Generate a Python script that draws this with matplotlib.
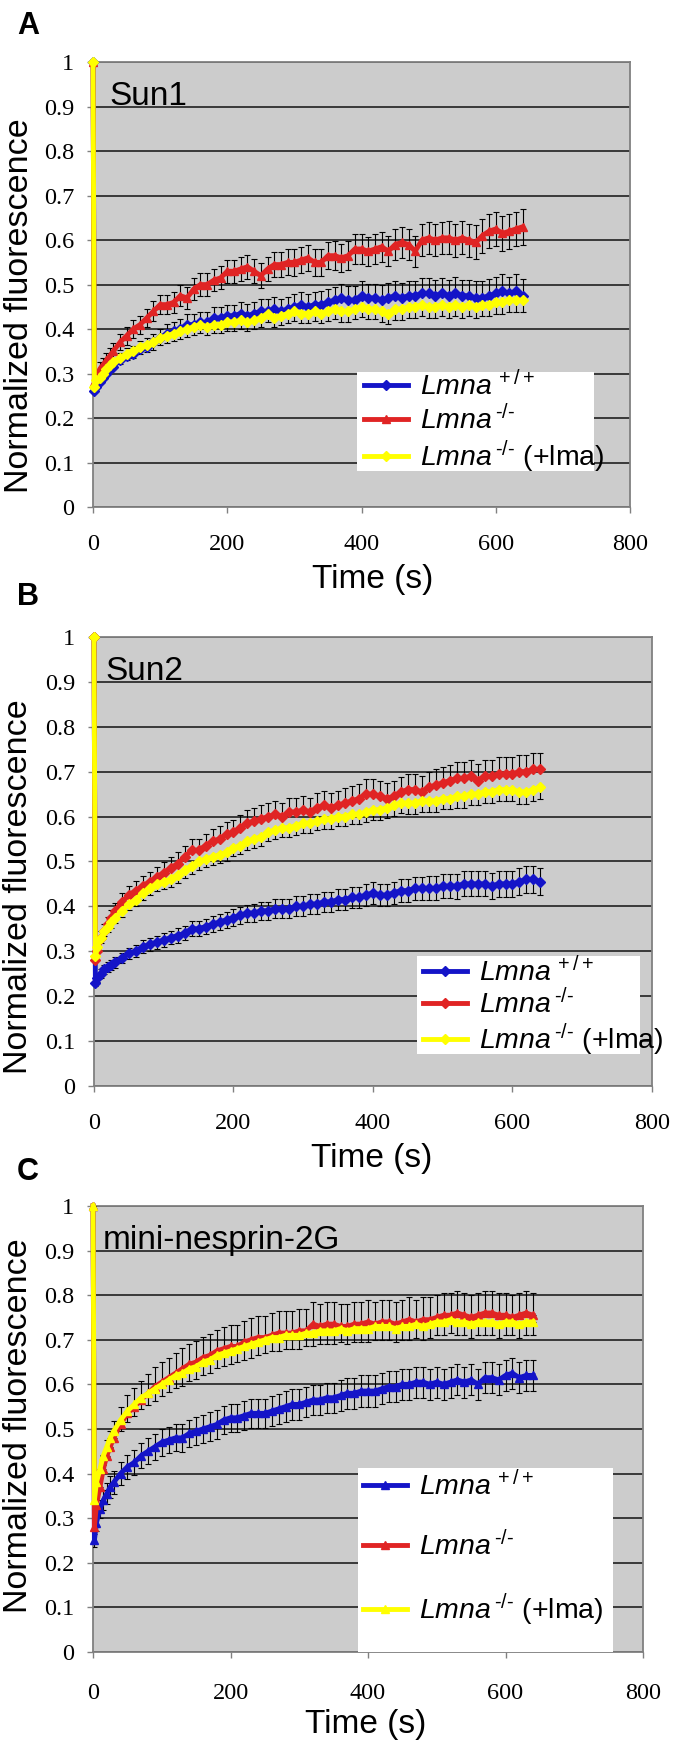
import matplotlib
matplotlib.use('Agg')
import matplotlib.pyplot as plt
from matplotlib.patches import Rectangle

plt.rcParams['font.family'] = ['Liberation Sans', 'DejaVu Sans']
plt.rcParams['mathtext.fontset'] = 'custom'
plt.rcParams['mathtext.rm'] = 'Liberation Sans'
plt.rcParams['mathtext.it'] = 'Liberation Sans:italic'

# time points (s)
time = [0, 2, 5, 10, 15, 20, 25, 30,
        40, 50, 60, 70, 80, 90, 100,
        110, 120, 130, 140, 150, 160, 170, 180, 190, 200,
        210, 220, 230, 240, 250, 260, 270, 280, 290, 300,
        310, 320, 330, 340, 350, 360, 370, 380, 390, 400,
        410, 420, 430, 440, 450, 460, 470, 480, 490, 500,
        510, 520, 530, 540, 550, 560, 570, 580, 590, 600,
        610, 620, 630, 640]

# ---- A: Sun1 ----
sun1_wt = [1.0, 0.26, 0.27, 0.28, 0.29, 0.30, 0.31, 0.315,
           0.33, 0.34, 0.345, 0.355, 0.36, 0.37, 0.38,
           0.39, 0.395, 0.40, 0.41, 0.41, 0.415, 0.415, 0.425, 0.425, 0.43,
           0.43, 0.435, 0.43, 0.435, 0.44, 0.44, 0.445, 0.44, 0.445, 0.45,
           0.455, 0.45, 0.455, 0.455, 0.46, 0.465, 0.47, 0.465, 0.465, 0.475,
           0.47, 0.47, 0.465, 0.47, 0.475, 0.47, 0.475, 0.475, 0.48, 0.48,
           0.475, 0.48, 0.475, 0.48, 0.475, 0.475, 0.47, 0.47, 0.475, 0.48,
           0.485, 0.48, 0.485, 0.475]
sun1_wt_err = [0, 0.01, 0.012, 0.013, 0.014, 0.015, 0.015, 0.016,
               0.017, 0.018, 0.018, 0.019, 0.02, 0.02, 0.021,
               0.021, 0.022, 0.022, 0.023, 0.023, 0.024, 0.024, 0.024, 0.025, 0.025,
               0.025, 0.026, 0.026, 0.026, 0.027, 0.027, 0.027, 0.028, 0.028, 0.028,
               0.029, 0.029, 0.029, 0.03, 0.03, 0.03, 0.031, 0.031, 0.031, 0.032,
               0.032, 0.032, 0.033, 0.033, 0.033, 0.034, 0.034, 0.034, 0.035, 0.035,
               0.035, 0.035, 0.036, 0.036, 0.036, 0.036, 0.037, 0.037, 0.037, 0.037,
               0.038, 0.038, 0.038, 0.038]
sun1_ko = [1.0, 0.28, 0.29, 0.31, 0.32, 0.33, 0.34, 0.35,
           0.37, 0.385, 0.40, 0.41, 0.425, 0.44, 0.455,
           0.455, 0.46, 0.475, 0.47, 0.49, 0.50, 0.50, 0.51, 0.515, 0.53,
           0.53, 0.535, 0.54, 0.53, 0.52, 0.535, 0.545, 0.545, 0.55, 0.55,
           0.555, 0.56, 0.55, 0.55, 0.565, 0.565, 0.56, 0.565, 0.58, 0.58,
           0.575, 0.58, 0.585, 0.575, 0.59, 0.595, 0.59, 0.575, 0.60, 0.605,
           0.60, 0.605, 0.605, 0.60, 0.605, 0.60, 0.595, 0.61, 0.62, 0.625,
           0.615, 0.62, 0.625, 0.63]
sun1_ko_err = [0, 0.01, 0.012, 0.015, 0.015, 0.016, 0.017, 0.018,
               0.018, 0.02, 0.02, 0.02, 0.021, 0.022, 0.022,
               0.022, 0.023, 0.023, 0.024, 0.024, 0.025, 0.025, 0.025, 0.026, 0.026,
               0.026, 0.027, 0.027, 0.027, 0.028, 0.028, 0.028, 0.029, 0.029, 0.03,
               0.03, 0.03, 0.031, 0.031, 0.031, 0.032, 0.032, 0.032, 0.033, 0.033,
               0.033, 0.034, 0.034, 0.034, 0.035, 0.035, 0.035, 0.035, 0.036, 0.036,
               0.036, 0.036, 0.037, 0.037, 0.037, 0.037, 0.038, 0.038, 0.038, 0.038,
               0.039, 0.039, 0.039, 0.04]
sun1_resc = [1.0, 0.27, 0.285, 0.29, 0.30, 0.31, 0.32, 0.325,
             0.335, 0.345, 0.35, 0.36, 0.365, 0.37, 0.38,
             0.385, 0.39, 0.395, 0.40, 0.405, 0.41, 0.405, 0.41, 0.41, 0.415,
             0.415, 0.42, 0.415, 0.42, 0.425, 0.435, 0.425, 0.43, 0.435, 0.44,
             0.435, 0.435, 0.44, 0.435, 0.44, 0.445, 0.44, 0.44, 0.445, 0.45,
             0.445, 0.445, 0.44, 0.435, 0.445, 0.445, 0.45, 0.45, 0.455, 0.45,
             0.45, 0.455, 0.45, 0.455, 0.45, 0.455, 0.45, 0.455, 0.455, 0.46,
             0.46, 0.465, 0.465, 0.465]
sun1_resc_err = [0, 0.01, 0.01, 0.012, 0.012, 0.013, 0.013, 0.014,
                 0.014, 0.015, 0.015, 0.015, 0.016, 0.016, 0.016,
                 0.017, 0.017, 0.017, 0.018, 0.018, 0.018, 0.018, 0.019, 0.019, 0.019,
                 0.019, 0.02, 0.02, 0.02, 0.02, 0.02, 0.021, 0.021, 0.021, 0.021,
                 0.021, 0.022, 0.022, 0.022, 0.022, 0.022, 0.023, 0.023, 0.023, 0.023,
                 0.023, 0.023, 0.024, 0.024, 0.024, 0.024, 0.024, 0.024, 0.025, 0.025,
                 0.025, 0.025, 0.025, 0.025, 0.025, 0.026, 0.026, 0.026, 0.026, 0.026,
                 0.026, 0.026, 0.027, 0.027]

# ---- B: Sun2 ----
sun2_wt = [1.0, 0.23, 0.24, 0.25, 0.26, 0.265, 0.27, 0.275,
           0.285, 0.295, 0.30, 0.31, 0.315, 0.32, 0.325,
           0.33, 0.335, 0.34, 0.35, 0.35, 0.355, 0.36, 0.365, 0.37, 0.375,
           0.38, 0.385, 0.385, 0.39, 0.39, 0.395, 0.395, 0.395, 0.40, 0.40,
           0.405, 0.405, 0.41, 0.41, 0.415, 0.415, 0.42, 0.42, 0.425, 0.43,
           0.425, 0.425, 0.43, 0.435, 0.435, 0.44, 0.44, 0.44, 0.44, 0.445,
           0.445, 0.445, 0.45, 0.45, 0.45, 0.45, 0.445, 0.45, 0.45, 0.45,
           0.455, 0.46, 0.46, 0.455]
sun2_wt_err = [0, 0.008, 0.009, 0.01, 0.01, 0.011, 0.011, 0.012,
               0.012, 0.013, 0.013, 0.014, 0.014, 0.015, 0.015,
               0.015, 0.016, 0.016, 0.017, 0.017, 0.017, 0.018, 0.018, 0.018, 0.019,
               0.019, 0.019, 0.02, 0.02, 0.02, 0.021, 0.021, 0.021, 0.022, 0.022,
               0.022, 0.022, 0.023, 0.023, 0.023, 0.024, 0.024, 0.024, 0.024, 0.025,
               0.025, 0.025, 0.025, 0.026, 0.026, 0.026, 0.026, 0.027, 0.027, 0.027,
               0.027, 0.028, 0.028, 0.028, 0.028, 0.028, 0.029, 0.029, 0.029, 0.029,
               0.03, 0.03, 0.03, 0.03]
sun2_ko = [1.0, 0.28, 0.30, 0.33, 0.345, 0.36, 0.375, 0.39,
           0.41, 0.425, 0.435, 0.445, 0.455, 0.465, 0.475,
           0.485, 0.495, 0.51, 0.525, 0.525, 0.535, 0.545, 0.55, 0.56, 0.565,
           0.575, 0.585, 0.59, 0.595, 0.60, 0.605, 0.60, 0.61, 0.61, 0.615,
           0.61, 0.62, 0.625, 0.62, 0.625, 0.63, 0.635, 0.64, 0.65, 0.65,
           0.645, 0.64, 0.645, 0.655, 0.66, 0.66, 0.655, 0.665, 0.67, 0.675,
           0.68, 0.685, 0.685, 0.69, 0.68, 0.69, 0.69, 0.695, 0.695, 0.695,
           0.70, 0.70, 0.705, 0.705]
sun2_ko_err = [0, 0.01, 0.012, 0.014, 0.015, 0.016, 0.017, 0.018,
               0.019, 0.02, 0.021, 0.022, 0.022, 0.023, 0.024,
               0.024, 0.025, 0.025, 0.026, 0.026, 0.027, 0.027, 0.028, 0.028, 0.028,
               0.029, 0.029, 0.029, 0.03, 0.03, 0.03, 0.03, 0.031, 0.031, 0.031,
               0.031, 0.032, 0.032, 0.032, 0.032, 0.033, 0.033, 0.033, 0.033, 0.033,
               0.034, 0.034, 0.034, 0.034, 0.034, 0.035, 0.035, 0.035, 0.035, 0.035,
               0.035, 0.036, 0.036, 0.036, 0.036, 0.036, 0.036, 0.037, 0.037, 0.037,
               0.037, 0.037, 0.037, 0.037]
sun2_resc = [1.0, 0.29, 0.31, 0.33, 0.345, 0.355, 0.365, 0.375,
             0.39, 0.405, 0.415, 0.43, 0.44, 0.45, 0.455,
             0.46, 0.47, 0.48, 0.49, 0.50, 0.505, 0.51, 0.515, 0.52, 0.53,
             0.535, 0.545, 0.55, 0.555, 0.565, 0.57, 0.575, 0.575, 0.58, 0.585,
             0.585, 0.59, 0.595, 0.595, 0.60, 0.60, 0.605, 0.605, 0.61, 0.615,
             0.615, 0.62, 0.625, 0.63, 0.63, 0.63, 0.635, 0.635, 0.635, 0.64,
             0.64, 0.645, 0.645, 0.65, 0.65, 0.655, 0.655, 0.66, 0.66, 0.66,
             0.655, 0.655, 0.66, 0.665]
sun2_resc_err = [0, 0.01, 0.01, 0.011, 0.012, 0.012, 0.013, 0.013,
                 0.014, 0.014, 0.015, 0.015, 0.015, 0.016, 0.016,
                 0.016, 0.017, 0.017, 0.017, 0.018, 0.018, 0.018, 0.018, 0.019, 0.019,
                 0.019, 0.019, 0.02, 0.02, 0.02, 0.02, 0.02, 0.021, 0.021, 0.021,
                 0.021, 0.021, 0.022, 0.022, 0.022, 0.022, 0.022, 0.022, 0.023, 0.023,
                 0.023, 0.023, 0.023, 0.023, 0.024, 0.024, 0.024, 0.024, 0.024, 0.024,
                 0.024, 0.025, 0.025, 0.025, 0.025, 0.025, 0.025, 0.025, 0.025, 0.026,
                 0.026, 0.026, 0.026, 0.026]

# ---- C: mini-nesprin-2G ----
mn2g_wt = [1.0, 0.25, 0.29, 0.32, 0.34, 0.355, 0.37, 0.38,
           0.40, 0.415, 0.425, 0.44, 0.45, 0.46, 0.47,
           0.475, 0.48, 0.48, 0.49, 0.495, 0.50, 0.505, 0.51, 0.52, 0.525,
           0.525, 0.53, 0.535, 0.535, 0.535, 0.54, 0.545, 0.55, 0.555, 0.555,
           0.56, 0.565, 0.565, 0.57, 0.57, 0.575, 0.58, 0.58, 0.585, 0.585,
           0.585, 0.59, 0.595, 0.595, 0.60, 0.60, 0.605, 0.605, 0.60, 0.605,
           0.60, 0.605, 0.61, 0.605, 0.61, 0.60, 0.615, 0.615, 0.61, 0.62,
           0.625, 0.615, 0.62, 0.62]
mn2g_wt_err = [0, 0.015, 0.018, 0.02, 0.022, 0.023, 0.024, 0.025,
               0.026, 0.027, 0.028, 0.028, 0.029, 0.029, 0.03,
               0.03, 0.03, 0.031, 0.031, 0.031, 0.031, 0.032, 0.032, 0.032, 0.032,
               0.032, 0.033, 0.033, 0.033, 0.033, 0.033, 0.033, 0.034, 0.034, 0.034,
               0.034, 0.034, 0.034, 0.034, 0.034, 0.035, 0.035, 0.035, 0.035, 0.035,
               0.035, 0.035, 0.035, 0.035, 0.035, 0.035, 0.035, 0.035, 0.035, 0.035,
               0.035, 0.035, 0.035, 0.035, 0.035, 0.035, 0.035, 0.035, 0.035, 0.035,
               0.035, 0.035, 0.035, 0.035]
mn2g_ko = [1.0, 0.28, 0.33, 0.37, 0.41, 0.44, 0.46, 0.48,
           0.51, 0.535, 0.55, 0.565, 0.58, 0.595, 0.605,
           0.615, 0.625, 0.635, 0.645, 0.65, 0.66, 0.665, 0.675, 0.68, 0.685,
           0.685, 0.695, 0.70, 0.705, 0.705, 0.71, 0.715, 0.715, 0.715, 0.72,
           0.72, 0.735, 0.73, 0.735, 0.735, 0.73, 0.73, 0.735, 0.735, 0.74,
           0.735, 0.74, 0.74, 0.735, 0.74, 0.745, 0.74, 0.745, 0.745, 0.75,
           0.755, 0.755, 0.76, 0.755, 0.75, 0.755, 0.76, 0.76, 0.755, 0.755,
           0.75, 0.755, 0.76, 0.755]
mn2g_ko_err = [0, 0.02, 0.025, 0.03, 0.032, 0.035, 0.036, 0.038,
               0.04, 0.041, 0.042, 0.043, 0.044, 0.045, 0.045,
               0.045, 0.046, 0.046, 0.046, 0.047, 0.047, 0.047, 0.047, 0.048, 0.048,
               0.048, 0.048, 0.048, 0.048, 0.049, 0.049, 0.049, 0.049, 0.049, 0.049,
               0.05, 0.05, 0.05, 0.05, 0.05, 0.05, 0.05, 0.05, 0.05, 0.05,
               0.05, 0.05, 0.05, 0.05, 0.05, 0.05, 0.05, 0.05, 0.05, 0.05,
               0.05, 0.05, 0.05, 0.05, 0.05, 0.05, 0.05, 0.05, 0.05, 0.05,
               0.05, 0.05, 0.05, 0.05]
mn2g_resc = [1.0, 0.34, 0.38, 0.41, 0.44, 0.46, 0.48, 0.495,
             0.52, 0.54, 0.555, 0.57, 0.58, 0.59, 0.60,
             0.61, 0.62, 0.625, 0.635, 0.64, 0.65, 0.655, 0.665, 0.67, 0.675,
             0.68, 0.685, 0.69, 0.695, 0.70, 0.705, 0.705, 0.71, 0.71, 0.71,
             0.715, 0.715, 0.72, 0.72, 0.72, 0.725, 0.72, 0.725, 0.725, 0.725,
             0.73, 0.73, 0.73, 0.725, 0.73, 0.73, 0.735, 0.73, 0.735, 0.74,
             0.74, 0.745, 0.74, 0.74, 0.735, 0.74, 0.74, 0.74, 0.735, 0.74,
             0.74, 0.735, 0.74, 0.74]
mn2g_resc_err = [0, 0.015, 0.018, 0.02, 0.021, 0.022, 0.023, 0.024,
                 0.025, 0.025, 0.026, 0.026, 0.027, 0.027, 0.027,
                 0.028, 0.028, 0.028, 0.028, 0.029, 0.029, 0.029, 0.029, 0.029, 0.03,
                 0.03, 0.03, 0.03, 0.03, 0.03, 0.03, 0.03, 0.03, 0.03, 0.03,
                 0.03, 0.03, 0.03, 0.03, 0.03, 0.03, 0.03, 0.03, 0.03, 0.03,
                 0.03, 0.03, 0.03, 0.03, 0.03, 0.03, 0.03, 0.03, 0.03, 0.03,
                 0.03, 0.03, 0.03, 0.03, 0.03, 0.03, 0.03, 0.03, 0.03, 0.03,
                 0.03, 0.03, 0.03, 0.03]

labels = ['$\\mathit{Lmna}^{\\,+/+}$', '$\\mathit{Lmna}^{\\,\u2010/\u2010}$',
          '$\\mathit{Lmna}^{\\,\u2010/\u2010}$ (+lma)']
colors = ['#1414c8', '#e02424', '#ffff00']
ytick_labels = ['0', '0.1', '0.2', '0.3', '0.4', '0.5', '0.6', '0.7', '0.8', '0.9', '1']
xtick_labels = ['0', '200', '400', '600', '800']

# letter, title, series, error direction, markers, axes rect, legend box, legend anchor,
# label spacing, letter baseline, xlabel x, ylabel y, title x
panels = [
    ('A', 'Sun1',
     [(sun1_wt, sun1_wt_err), (sun1_ko, sun1_ko_err), (sun1_resc, sun1_resc_err)],
     ['up', 'both', 'down'], ['D', '^', 'D'],
     [0.1368, 0.7119, 0.7897, 0.2528], (393, 0.081, 353, 0.222), (403, 0.306), 0.12,
     0.9807, 0.52, 0.452, 24),
    ('B', 'Sun2',
     [(sun2_wt, sun2_wt_err), (sun2_ko, sun2_ko_err), (sun2_resc, sun2_resc_err)],
     ['both', 'up', 'down'], ['D', 'D', 'D'],
     [0.1382, 0.3830, 0.8206, 0.2551], (463, 0.07, 320, 0.22), (471, 0.289), 0.08,
     0.6562, 0.498, 0.443, 17),
    ('C', 'mini-nesprin-2G',
     [(mn2g_wt, mn2g_wt_err), (mn2g_ko, mn2g_ko_err), (mn2g_resc, mn2g_resc_err)],
     ['both', 'up', 'down'], ['^', '^', '^'],
     [0.1368, 0.0614, 0.8088, 0.2534], (386, 0.0, 370, 0.4125), (392, 0.407), 1.05,
     0.3295, 0.495, 0.507, 14.5),
]

fig = plt.figure(figsize=(6.8, 17.6), dpi=100)

for (letter, title, series, dirs, markers, rect, box, anchor, lspace,
     ly, xlx, yly, tx) in panels:
    ax = fig.add_axes(rect)
    ax.set_facecolor('#cccccc')
    for (vals, err), d, c, m, lab, z in zip(series, dirs, colors, markers, labels, [4, 5, 6]):
        lo = [e if d in ('both', 'down') else 0 for e in err]
        hi = [e if d in ('both', 'up') else 0 for e in err]
        ax.errorbar(time, vals, yerr=[lo, hi], fmt='none', ecolor='black',
                    elinewidth=0.8, capsize=2.5, capthick=0.8, zorder=3.5)
        ax.plot(time, vals, color=c, lw=3.5, marker=m, ms=5.5, mec=c, mfc=c,
                label=lab, zorder=z, clip_on=False)
    ax.set_xlim(0, 800)
    ax.set_ylim(0, 1)
    ax.set_xticks([0, 200, 400, 600, 800], labels=xtick_labels,
                  fontfamily='Liberation Serif', fontsize=17.5)
    ax.set_yticks([i / 10 for i in range(11)], labels=ytick_labels,
                  fontfamily='Liberation Serif', fontsize=17.5)
    ax.yaxis.grid(True, color='#111111', lw=1.1)
    ax.set_axisbelow(True)
    for s in ax.spines.values():
        s.set_color('#808080')
        s.set_linewidth(1.3)
    ax.tick_params(axis='both', direction='out', length=4.5, width=1, color='#808080')
    ax.tick_params(axis='y', pad=9)
    ax.tick_params(axis='x', pad=15 if letter != 'C' else 18)

    ax.set_ylabel('Normalized fluorescence', fontsize=24.5)
    ax.yaxis.set_label_coords(-0.108, yly)
    ax.set_xlabel('Time (s)', fontsize=24)
    ax.xaxis.set_label_coords(xlx, -0.128)
    ax.xaxis.label.set_va('top')

    ax.text(tx, 0.903, title, fontsize=24, va='baseline', ha='left', zorder=7)

    ax.add_patch(Rectangle((box[0], box[1]), box[2], box[3], facecolor='white',
                           edgecolor='none', zorder=3))
    ax.legend(loc='upper left', bbox_to_anchor=anchor, bbox_transform=ax.transData,
              frameon=False, fontsize=20.5, handlelength=1.55, handletextpad=0.42,
              labelspacing=lspace, borderpad=0, borderaxespad=0).set_zorder(8)

    fig.text(0.025, ly, letter, fontsize=22, fontweight='bold', ha='left', va='baseline')

fig.savefig('out.png', dpi=100, facecolor='white')
